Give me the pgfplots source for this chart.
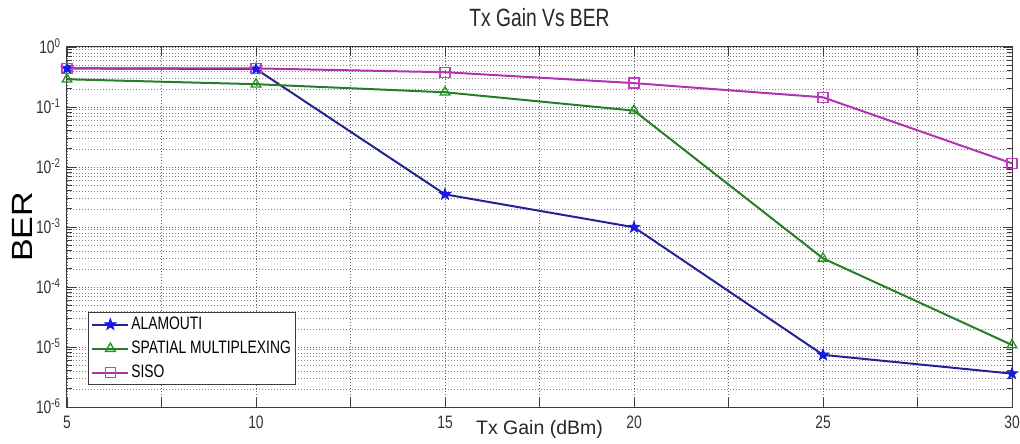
\documentclass[border=0pt]{standalone}
\usepackage{fontspec}
\setmainfont{Liberation Sans}
\usepackage{graphicx}
\usepackage{pgfplots}
\pgfplotsset{compat=1.18}

\definecolor{alaLine}{RGB}{35,35,150}
\definecolor{alaMark}{RGB}{25,25,230}
\definecolor{smLine}{RGB}{40,125,40}
\definecolor{smMark}{RGB}{30,150,30}
\definecolor{sisoLine}{RGB}{175,50,175}
\definecolor{sisoMark}{RGB}{195,60,195}
\definecolor{frame}{RGB}{60,60,60}

\newcommand\cs[1]{\scalebox{0.77}[1]{#1}}

\pgfdeclareplotmark{pentagram}{%
  \pgfpathmoveto{\pgfpointpolar{90}{\pgfplotmarksize}}%
  \pgfpathlineto{\pgfpointpolar{126}{0.4\pgfplotmarksize}}%
  \pgfpathlineto{\pgfpointpolar{162}{\pgfplotmarksize}}%
  \pgfpathlineto{\pgfpointpolar{198}{0.4\pgfplotmarksize}}%
  \pgfpathlineto{\pgfpointpolar{234}{\pgfplotmarksize}}%
  \pgfpathlineto{\pgfpointpolar{270}{0.4\pgfplotmarksize}}%
  \pgfpathlineto{\pgfpointpolar{306}{\pgfplotmarksize}}%
  \pgfpathlineto{\pgfpointpolar{342}{0.4\pgfplotmarksize}}%
  \pgfpathlineto{\pgfpointpolar{18}{\pgfplotmarksize}}%
  \pgfpathlineto{\pgfpointpolar{54}{0.4\pgfplotmarksize}}%
  \pgfpathclose
  \pgfusepathqfillstroke}

\begin{document}
\begin{tikzpicture}
\begin{axis}[
  name=ax,
  scale only axis,
  width=945pt, height=360pt,
  xmin=5, xmax=30,
  ymode=log, ymin=1e-6, ymax=1,
  xtick={5,7.5,10,12.5,15,17.5,20,22.5,25,27.5,30},
  xticklabels={\cs{5},,\cs{10},,\cs{15},,\cs{20},,\cs{25},,\cs{30}},
  ytick={1e-6,1e-5,1e-4,1e-3,1e-2,1e-1,1},
  yticklabels={\cs{10\textsuperscript{-6}},\cs{10\textsuperscript{-5}},\cs{10\textsuperscript{-4}},\cs{10\textsuperscript{-3}},\cs{10\textsuperscript{-2}},\cs{10\textsuperscript{-1}},\cs{10\textsuperscript{0}}},
  minor ytick={2e-6,3e-6,4e-6,5e-6,6e-6,7e-6,8e-6,9e-6,
               2e-5,3e-5,4e-5,5e-5,6e-5,7e-5,8e-5,9e-5,
               2e-4,3e-4,4e-4,5e-4,6e-4,7e-4,8e-4,9e-4,
               2e-3,3e-3,4e-3,5e-3,6e-3,7e-3,8e-3,9e-3,
               2e-2,3e-2,4e-2,5e-2,6e-2,7e-2,8e-2,9e-2,
               0.2,0.3,0.4,0.5,0.6,0.7,0.8,0.9},
  grid=both,
  major grid style={dash pattern=on 1pt off 2pt, black!60, line width=0.65pt},
  minor grid style={dash pattern=on 1pt off 2pt, black!50, line width=0.55pt},
  major tick length=9pt, minor tick length=5pt,
  tick align=inside,
  tick style={frame, line width=0.9pt},
  axis line style={frame, line width=1pt},
  tick label style={font=\fontsize{18}{20}\selectfont, text=black!80},
  xticklabel style={anchor=base, yshift=-21.5pt},
  yticklabel style={anchor=base east, yshift=-6.5pt, xshift=-3pt},
  title={\cs{Tx Gain Vs BER}},
  title style={font=\fontsize{25}{28}\selectfont, text=black!85, at={(axis description cs:0.5,1)}, anchor=base, yshift=14pt},
  xlabel={Tx Gain (dBm)},
  xlabel style={font=\fontsize{19.5}{22}\selectfont, text=black!85, at={(axis description cs:0.5,0)}, anchor=base, yshift=-27pt},
  ylabel={\scalebox{1}[0.86]{BER}},
  ylabel style={font=\fontsize{34}{36}\selectfont, text=black, at={(axis description cs:-0.0476,0.5)}, anchor=center},
  legend style={at={(axis description cs:0.0222,0.0611)}, anchor=south west,
    draw=frame, line width=0.8pt, fill=white,
    font=\fontsize{18}{20}\selectfont,
    nodes={inner sep=2pt, text height=13pt, text depth=3pt},
    row sep=4pt, inner xsep=3pt, inner ysep=2pt},
  legend cell align=left,
  legend image code/.code={\draw[mark repeat=2,mark phase=2] plot coordinates {(0pt,0pt) (18pt,0pt) (36pt,0pt)};},
]
\addplot[alaLine, line width=2pt, mark=pentagram, mark size=6pt, mark options={draw=alaMark, fill=alaMark, line width=0.8pt, solid}]
  coordinates {(5,0.44) (10,0.43) (15,3.5e-3) (20,9.9e-4) (25,7.4e-6) (30,3.6e-6)};
\addlegendentry{\cs{ALAMOUTI}}
\addplot[smLine, line width=2pt, mark=triangle, mark size=5.5pt, mark options={smMark, line width=1.3pt, solid}]
  coordinates {(5,0.29) (10,0.24) (15,0.176) (20,0.087) (25,3.0e-4) (30,1.08e-5)};
\addlegendentry{\cs{SPATIAL MULTIPLEXING}}
\addplot[sisoLine, line width=2pt, mark=square, mark size=5pt, mark options={sisoMark, line width=1.3pt, solid}]
  coordinates {(5,0.44) (10,0.44) (15,0.38) (20,0.25) (25,0.145) (30,0.0115)};
\addlegendentry{\cs{SISO}}
\end{axis}
\pgfresetboundingbox
\path ([shift={(-67pt,-37pt)}]ax.south west) rectangle ([shift={(8pt,47pt)}]ax.north east);
\end{tikzpicture}
\end{document}
